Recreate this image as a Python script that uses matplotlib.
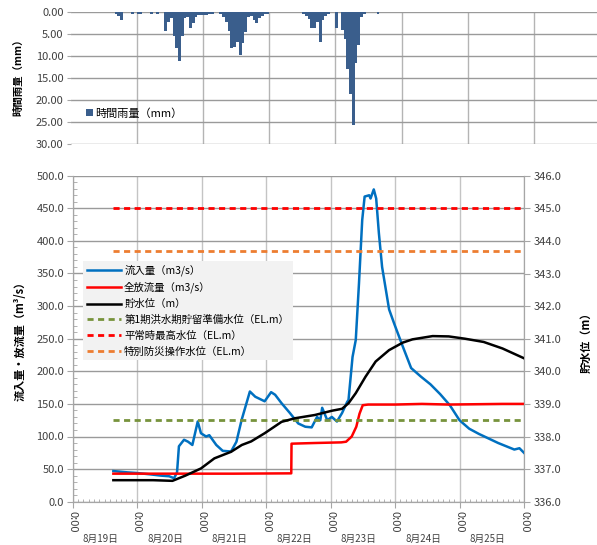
import matplotlib
matplotlib.use('Agg')
import matplotlib.pyplot as plt
import matplotlib.transforms as mtransforms
from matplotlib.ticker import MultipleLocator
import numpy as np

# ---------------- data ----------------
# hours counted from 8/19 0:00
rain_hours = [16, 17, 18, 22, 24, 25, 29, 31,
              34, 35, 36, 37, 38, 39, 40, 41, 42, 43, 44, 45, 46, 47, 48, 49, 50, 51,
              54, 55, 56, 57, 58, 59, 60, 61, 62, 63, 64, 65, 66, 67, 68, 69, 70, 71,
              84, 85, 86, 87, 88, 89, 90, 91, 92, 93,
              96, 98, 99, 100, 101, 102, 103, 104, 105, 106, 111]
rain_mm = [0.4, 0.8, 1.8, 0.4, 0.4, 0.3, 0.3, 0.4,
           4.2, 2.1, 1.4, 5.5, 8.2, 11.2, 5.5, 1.4, 1.0, 3.5, 2.5, 1.0, 0.7, 0.7, 0.6, 0.6, 0.5, 0.4,
           0.5, 1.0, 2.1, 4.2, 8.2, 7.8, 6.7, 9.8, 7.0, 4.5, 1.0, 0.8, 1.7, 2.5, 1.4, 0.8, 0.5, 0.4,
           0.5, 0.8, 1.5, 3.6, 3.6, 2.1, 6.7, 1.8, 0.8, 0.4,
           3.5, 4.0, 6.0, 13.0, 18.7, 25.7, 11.6, 7.4, 1.0, 0.5, 0.3]

inflow_hours = [15.2, 20.4, 24, 28.8, 32.9, 36, 37.8, 38.9, 39.6, 41.5, 43, 44.6, 46.6, 47.8,
                49.7, 50.9, 53.5, 55.9, 59, 61, 62.9, 66, 68, 71.5, 73.9, 75.4, 77.8, 80.9,
                84, 86.6, 89, 91, 92.2, 92.9, 94.8, 96.5, 98.4, 100.3, 102.2, 102.7, 104.2,
                105.4, 106.6, 107.8, 108.7, 110.4, 110.9, 112.1, 113, 114, 115.2, 117.8,
                119.8, 122.9, 126, 129.6, 133.2, 136.8, 140.4, 144, 147.6, 151.2, 154.8,
                158.4, 162, 164.4, 166.3, 168]
inflow = [47, 45, 44, 42, 40, 39, 36, 45, 85, 95, 92, 87, 123, 105,
          100, 102, 87, 78, 77, 92, 125, 169, 161, 154, 168, 164, 151, 136,
          120, 115, 114, 130, 125, 144, 125, 130, 123, 136, 153, 156, 222,
          248, 335, 432, 468, 470, 465, 479, 465, 412, 360, 295,
          272, 238, 205, 192, 180, 165, 148, 125, 112, 104, 97,
          90, 84, 80, 82, 75]

outflow_hours = [15.2, 40, 60, 81.4, 81.5, 90, 100, 101.8, 103.9, 105.6, 106.8, 108,
                 110, 120, 130, 140, 150, 160, 168]
outflow = [43, 43, 43, 43.5, 89, 90, 91, 92, 100, 115, 135, 148,
           149, 149, 150, 149, 149.5, 150, 150]

level_hours = [15.2, 30, 37.2, 42, 47.8, 52.8, 59, 63, 66.5, 71.5, 77.8, 82.8, 90.2,
               96.5, 100.3, 102.7, 105.4, 109, 112.8, 117.8, 122.9, 126.5, 134, 140,
               146, 153, 160, 168]
level = [336.66, 336.66, 336.64, 336.8, 337.02, 337.33, 337.53, 337.74, 337.85, 338.1,
         338.45, 338.56, 338.66, 338.79, 338.85, 339.02, 339.33, 339.83, 340.3, 340.65,
         340.88, 340.98, 341.08, 341.07, 341.0, 340.9, 340.7, 340.4]

ref_hours = [15.2, 168]
level_prep = 338.5      # 第1期洪水期貯留準備水位
level_normal = 345.0    # 平常時最高水位
level_special = 343.7   # 特別防災操作水位

day_labels = ['8月19日', '8月20日', '8月21日', '8月22日', '8月23日', '8月24日', '8月25日']
time_label = '0:00'

# ---------------- figure ----------------
plt.rcParams['font.family'] = ['Noto Sans CJK JP', 'DejaVu Sans']
W, H = 597, 545
fig = plt.figure(figsize=(W / 100, H / 100), dpi=100)


def px(x0, y0, x1, y1):
    return [x0 / W, 1 - y1 / H, (x1 - x0) / W, (y1 - y0) / H]


grid_c = '#A6A6A6'
tick_c = '#404040'

# ---------- rainfall (top) ----------
axr = fig.add_axes(px(70.5, 12.3, 597, 144))
axr.bar(rain_hours, rain_mm, width=1.0, align='edge', color='#3A5E8C',
        label='時間雨量（mm）', zorder=3)
axr.set_ylim(30, 0)
axr.set_xlim(0, (597 - 70.5) / 66.2 * 24)
axr.set_yticks(np.arange(0, 31, 5))
axr.set_yticklabels([f'{v:.2f}' for v in np.arange(0, 31, 5)], fontsize=8, color=tick_c)
axr.set_xticks(np.arange(24, 190, 24))
axr.tick_params(axis='x', length=0, labelbottom=False)
axr.tick_params(axis='y', length=3, color=grid_c, pad=2)
axr.grid(True, axis='y', color='#9A9A9A', lw=1, zorder=0)
axr.grid(True, axis='x', color='#B4B4B4', lw=1, zorder=0)
for s in axr.spines.values():
    s.set_visible(False)
axr.legend(loc='lower left', bbox_to_anchor=(80 / W, 1 - 124 / H),
           bbox_transform=fig.transFigure, frameon=False, fontsize=8,
           handlelength=0.7, handleheight=0.7, handletextpad=0.2, borderpad=0)
fig.text(18 / W, 1 - 75 / H, '時間雨量（mm）', rotation=90, ha='center', va='center',
         fontsize=7.5, fontweight='bold')

# ---------- flows (bottom) ----------
ax = fig.add_axes(px(72.5, 175.7, 524, 501.7))
ax.set_xlim(0, 168)
ax.set_ylim(0, 500)
l1, = ax.plot(inflow_hours, inflow, color='#0070C0', lw=1.8, label='流入量（m3/s）', zorder=4)
l2, = ax.plot(outflow_hours, outflow, color='#FF0000', lw=1.8, label='全放流量（m3/s）', zorder=4)
ax.set_yticks(np.arange(0, 501, 50))
ax.set_yticklabels([f'{v:.1f}' for v in np.arange(0, 501, 50)], fontsize=8, color=tick_c)
ax.yaxis.set_minor_locator(MultipleLocator(10))
ax.set_xticks(np.arange(0, 169, 24))
ax.set_xticklabels([time_label] * 8, rotation=270, fontsize=8, color=tick_c)
ax.xaxis.set_minor_locator(MultipleLocator(2))
ax.tick_params(axis='y', which='major', direction='out', length=4, color=grid_c, pad=2)
ax.tick_params(axis='y', which='minor', direction='in', length=3, color=grid_c)
ax.tick_params(axis='x', which='major', direction='out', length=4, color=grid_c, pad=3)
ax.tick_params(axis='x', which='minor', direction='in', length=2.5, color=grid_c)
ax.grid(True, axis='y', which='major', color='#9A9A9A', lw=1, zorder=0)
ax.grid(True, axis='x', which='major', color='#C4C4C4', lw=1, zorder=0)
ax.spines['top'].set_visible(False)
for s in ['left', 'bottom', 'right']:
    ax.spines[s].set_color(grid_c)

ax2 = ax.twinx()
ax2.set_ylim(336, 346)
ax2.set_yticks(np.arange(336, 346.1, 1))
ax2.set_yticklabels([f'{v:.1f}' for v in np.arange(336, 346.1, 1)], fontsize=8, color=tick_c)
ax2.tick_params(axis='y', direction='out', length=4, color=grid_c, pad=3)
for s in ['left', 'bottom', 'right']:
    ax2.spines[s].set_color(grid_c)
ax2.spines['top'].set_visible(False)
l3, = ax2.plot(level_hours, level, color='black', lw=1.8, label='貯水位（m）', zorder=4)
dash = (2.2, 1.6)
l4, = ax2.plot(ref_hours, [level_prep] * 2, color='#77933C', lw=2, dashes=dash,
               label='第1期洪水期貯留準備水位（EL.m）')
l5, = ax2.plot(ref_hours, [level_normal] * 2, color='#FF0000', lw=2, dashes=dash,
               label='平常時最高水位（EL.m）')
l6, = ax2.plot(ref_hours, [level_special] * 2, color='#ED7D31', lw=2, dashes=dash,
               label='特別防災操作水位（EL.m）')

leg = ax2.legend(handles=[l1, l2, l3, l4, l5, l6], loc='upper left',
                 bbox_to_anchor=(83 / W, 1 - 261 / H), bbox_transform=fig.transFigure,
                 fontsize=7.5, frameon=True, fancybox=False, borderaxespad=0,
                 handlelength=3.3, handletextpad=0.3, labelspacing=0.55, borderpad=0.35)
leg.get_frame().set_facecolor('#F2F2F2')
leg.get_frame().set_edgecolor('none')
leg.get_frame().set_alpha(1)

trans = mtransforms.blended_transform_factory(ax.transData, fig.transFigure)
for i, lab in enumerate(day_labels):
    ax.text(i * 24 + 10.5, 1 - 539 / H, lab, transform=trans, ha='center', va='center',
            fontsize=7, color=tick_c)

fig.text(20 / W, 1 - 338 / H, '流入量・放流量（m³/s）', rotation=90, ha='center', va='center',
         fontsize=8, fontweight='bold')
fig.text(586 / W, 1 - 340 / H, '貯水位（m）', rotation=90, ha='center', va='center',
         fontsize=8, fontweight='bold')

fig.savefig('out.png', dpi=100)
